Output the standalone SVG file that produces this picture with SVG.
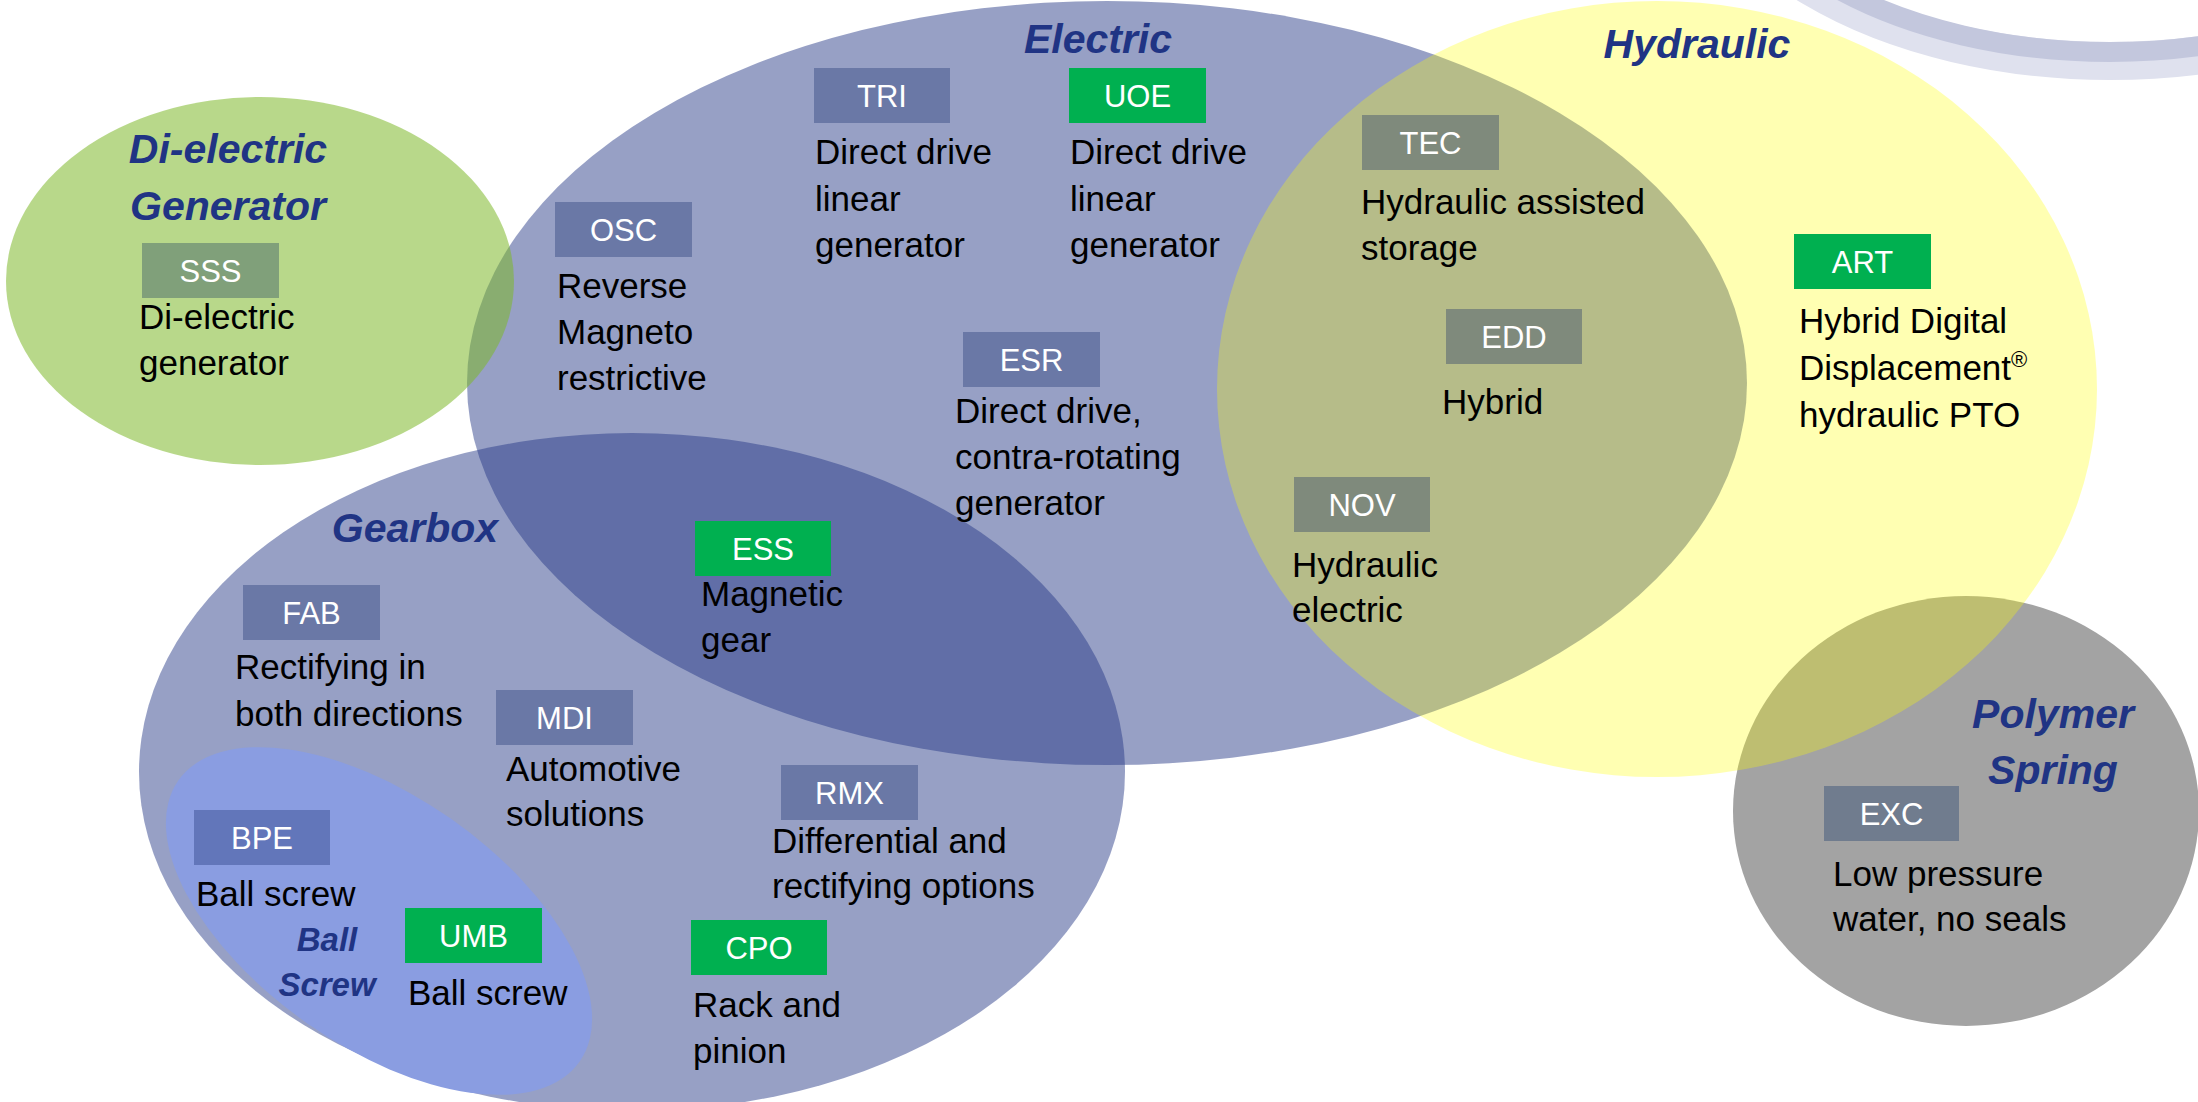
<svg xmlns="http://www.w3.org/2000/svg" width="2198" height="1102" viewBox="0 0 2198 1102">
<style>
.t{font-family:"Liberation Sans",Arial,sans-serif;font-size:35px;fill:#000}
.lb{font-family:"Liberation Sans",Arial,sans-serif;font-size:31px;fill:#fff;text-anchor:middle}
.ti{font-family:"Liberation Sans",Arial,sans-serif;font-size:41px;font-weight:bold;font-style:italic;fill:#203484;text-anchor:middle}
.bb{fill:#6A78A6}.bg{fill:#00B050}.bh{fill:#7F8A7C}
</style>
<rect width="2198" height="1102" fill="#fff"/>
<g id="regions">
<g id="deco-arc" fill="none">
<ellipse cx="2110" cy="-189" rx="420" ry="250" stroke="#DFE1EE" stroke-width="38"/>
<ellipse cx="2110" cy="-184" rx="400" ry="236" stroke="#C3C7DD" stroke-width="20"/>
</g>
<ellipse id="electric" cx="1107" cy="383" rx="640" ry="382" fill="#263986" fill-opacity="0.48"/>
<ellipse id="gearbox" cx="632" cy="772" rx="493" ry="339" fill="#263986" fill-opacity="0.48"/>
<ellipse id="ballscrew" cx="379" cy="921" rx="245" ry="125" transform="rotate(35 379 921)" fill="#8A9DE1"/>
<ellipse id="dielectric" cx="260" cy="281" rx="254" ry="184" fill="#7EB82A" fill-opacity="0.55"/>
<ellipse id="polymer" cx="1966" cy="811" rx="233" ry="215" fill="#A3A3A3"/>
<ellipse id="hydraulic" cx="1657" cy="389" rx="440" ry="388" fill="#FFFF00" fill-opacity="0.3"/>
</g>
<g id="titles">
<text class="ti" x="228" y="163">Di-electric</text>
<text class="ti" x="228" y="220">Generator</text>
<text class="ti" x="1098" y="53">Electric</text>
<text class="ti" x="1697" y="58">Hydraulic</text>
<text class="ti" x="415" y="542">Gearbox</text>
<text class="ti" x="2053" y="728">Polymer</text>
<text class="ti" x="2053" y="784">Spring</text>
<text class="ti" x="327" y="951" style="font-size:33px">Ball</text>
<text class="ti" x="327" y="996" style="font-size:33px">Screw</text>
</g>
<g id="connectors"/>
<g id="SSS"><rect x="142" y="243" width="137" height="55" fill="#80A07A"/><text class="lb" x="210.5" y="281.5">SSS</text>
<text class="t" x="139" y="329">Di-electric</text><text class="t" x="139" y="375">generator</text></g>
<g id="OSC"><rect class="bb" x="555" y="202" width="137" height="55"/><text class="lb" x="623.5" y="240.5">OSC</text>
<text class="t" x="557" y="298">Reverse</text><text class="t" x="557" y="344">Magneto</text><text class="t" x="557" y="390">restrictive</text></g>
<g id="TRI"><rect class="bb" x="814" y="68" width="136" height="55"/><text class="lb" x="882" y="106.5">TRI</text>
<text class="t" x="815" y="164">Direct drive</text><text class="t" x="815" y="211">linear</text><text class="t" x="815" y="257">generator</text></g>
<g id="UOE"><rect class="bg" x="1069" y="68" width="137" height="55"/><text class="lb" x="1137.5" y="106.5">UOE</text>
<text class="t" x="1070" y="164">Direct drive</text><text class="t" x="1070" y="211">linear</text><text class="t" x="1070" y="257">generator</text></g>
<g id="TEC"><rect class="bh" x="1362" y="115" width="137" height="55"/><text class="lb" x="1430.5" y="153.5">TEC</text>
<text class="t" x="1361" y="214">Hydraulic assisted</text><text class="t" x="1361" y="260">storage</text></g>
<g id="EDD"><rect class="bh" x="1446" y="309" width="136" height="55"/><text class="lb" x="1514" y="347.5">EDD</text>
<text class="t" x="1442" y="414">Hybrid</text></g>
<g id="NOV"><rect class="bh" x="1294" y="477" width="136" height="55"/><text class="lb" x="1362" y="515.5">NOV</text>
<text class="t" x="1292" y="577">Hydraulic</text><text class="t" x="1292" y="622">electric</text></g>
<g id="ART"><rect class="bg" x="1794" y="234" width="137" height="55"/><text class="lb" x="1862.5" y="272.5">ART</text>
<text class="t" x="1799" y="333">Hybrid Digital</text><text class="t" x="1799" y="380">Displacement<tspan font-size="22" dy="-13">®</tspan></text><text class="t" x="1799" y="427">hydraulic PTO</text></g>
<g id="ESR"><rect class="bb" x="963" y="332" width="137" height="55"/><text class="lb" x="1031.5" y="370.5">ESR</text>
<text class="t" x="955" y="423">Direct drive,</text><text class="t" x="955" y="469">contra-rotating</text><text class="t" x="955" y="515">generator</text></g>
<g id="ESS"><rect class="bg" x="695" y="521" width="136" height="55"/><text class="lb" x="763" y="559.5">ESS</text>
<text class="t" x="701" y="606">Magnetic</text><text class="t" x="701" y="652">gear</text></g>
<g id="FAB"><rect class="bb" x="243" y="585" width="137" height="55"/><text class="lb" x="311.5" y="623.5">FAB</text>
<text class="t" x="235" y="679">Rectifying in</text><text class="t" x="235" y="726">both directions</text></g>
<g id="MDI"><rect class="bb" x="496" y="690" width="137" height="55"/><text class="lb" x="564.5" y="728.5">MDI</text>
<text class="t" x="506" y="781">Automotive</text><text class="t" x="506" y="826">solutions</text></g>
<g id="RMX"><rect class="bb" x="781" y="765" width="137" height="55"/><text class="lb" x="849.5" y="803.5">RMX</text>
<text class="t" x="772" y="853">Differential and</text><text class="t" x="772" y="898">rectifying options</text></g>
<g id="BPE"><rect x="194" y="810" width="136" height="55" fill="#6276BA"/><text class="lb" x="262" y="848.5">BPE</text>
<text class="t" x="196" y="906">Ball screw</text></g>
<g id="UMB"><rect class="bg" x="405" y="908" width="137" height="55"/><text class="lb" x="473.5" y="946.5">UMB</text>
<text class="t" x="408" y="1005">Ball screw</text></g>
<g id="CPO"><rect class="bg" x="691" y="920" width="136" height="55"/><text class="lb" x="759" y="958.5">CPO</text>
<text class="t" x="693" y="1017">Rack and</text><text class="t" x="693" y="1063">pinion</text></g>
<g id="EXC"><rect x="1824" y="786" width="135" height="55" fill="#707C8E"/><text class="lb" x="1891.5" y="824.5">EXC</text>
<text class="t" x="1833" y="886">Low pressure</text><text class="t" x="1833" y="931">water, no seals</text></g>
</svg>
